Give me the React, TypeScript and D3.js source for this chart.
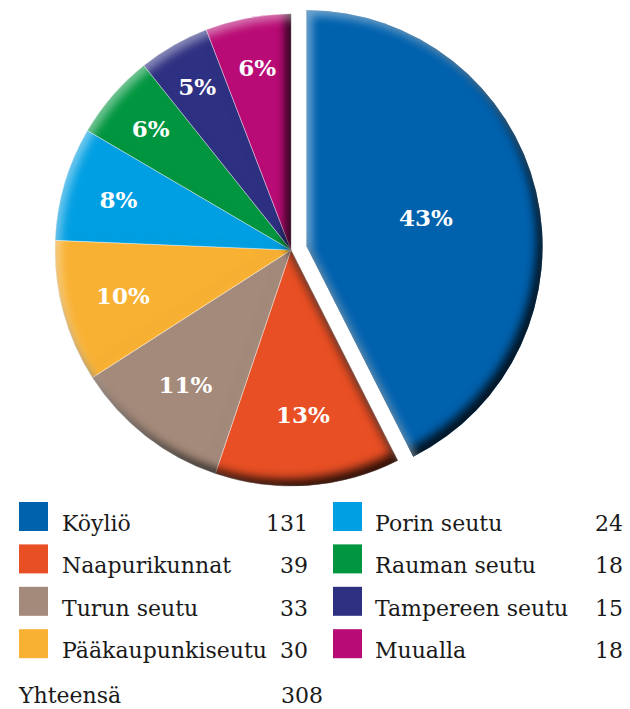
import React from 'react';
import * as d3 from 'd3';

const categories = ['Köyliö', 'Naapurikunnat', 'Turun seutu', 'Pääkaupunkiseutu', 'Porin seutu', 'Rauman seutu', 'Tampereen seutu', 'Muualla'];
const values = [131, 39, 33, 30, 24, 18, 15, 18];
const colors = ['#0061ad', '#e84f24', '#a48a7a', '#f8b133', '#009fe3', '#00963f', '#2e3082', '#b90b75'];
const totalLabel = 'Yhteensä';
const totalValue = 308;

type Datum = { name: string; value: number; color: string };

export default function App() {
  const W = 630, H = 709;
  const cx = 291, cy = 250, r = 236;
  const data: Datum[] = categories.map((c, i) => ({ name: c, value: values[i], color: colors[i] }));
  const pie = d3.pie<Datum>().value(d => d.value).sort(null);
  const arcs = pie(data);
  const arc = d3.arc<d3.PieArcDatum<Datum>>().innerRadius(0).outerRadius(r);
  const sum = d3.sum(values);
  const labelArc = (f: number) => {
    const lr = r * Math.min(0.8, 0.86 - 1.25 * f);
    return d3.arc<d3.PieArcDatum<Datum>>().innerRadius(lr).outerRadius(lr);
  };
  const labelArcExpl = d3.arc<d3.PieArcDatum<Datum>>().innerRadius(r * 0.52).outerRadius(r * 0.52);
  const pct = (v: number) => Math.round((v / sum) * 100) + '%';
  const explode = 16;

  const expl = arcs[0];
  const rest = arcs.slice(1);
  const mid = (expl.startAngle + expl.endAngle) / 2;
  const tx = Math.sin(mid) * explode;
  const ty = -Math.cos(mid) * explode;

  const legendRows = d3.range(4);
  const rowY = (i: number) => 502 + i * 42.4;
  const serif = '"DejaVu Serif", serif';

  return (
    <svg width={W} height={H} viewBox={`0 0 ${W} ${H}`} style={{ position: 'absolute', left: 0, top: 0, background: '#fff' }}>
      <defs>
        <filter id="bevel" filterUnits="userSpaceOnUse" x={-400} y={-400} width={800} height={800} colorInterpolationFilters="sRGB">
          <feGaussianBlur in="SourceAlpha" stdDeviation="5" result="blur" />
          <feOffset in="blur" dx="-6" dy="-7" result="offDark" />
          <feComposite in="SourceAlpha" in2="offDark" operator="out" result="darkMask" />
          <feFlood floodColor="#000" floodOpacity="0.8" result="black" />
          <feComposite in="black" in2="darkMask" operator="in" result="dark" />
          <feOffset in="blur" dx="5" dy="5" result="offLight" />
          <feComposite in="SourceAlpha" in2="offLight" operator="out" result="lightMask" />
          <feFlood floodColor="#fff" floodOpacity="0.45" result="white" />
          <feComposite in="white" in2="lightMask" operator="in" result="light" />
          <feMerge>
            <feMergeNode in="SourceGraphic" />
            <feMergeNode in="dark" />
            <feMergeNode in="light" />
          </feMerge>
        </filter>
      </defs>

      <g transform={`translate(${cx},${cy})`}>
        <g filter="url(#bevel)">
          {rest.map((a, i) => (
            <path key={i} d={arc(a) || ''} fill={a.data.color} stroke="#ffffff" strokeOpacity={0.55} strokeWidth={0.7} />
          ))}
        </g>
        <g transform={`translate(${tx},${ty})`}>
          <g filter="url(#bevel)">
            <path d={arc(expl) || ''} fill={expl.data.color} />
          </g>
        </g>
        {rest.map((a, i) => {
          const [x, y] = labelArc(a.data.value / sum).centroid(a);
          return (
            <text key={i} x={x} y={y} dy="0.36em" textAnchor="middle" fill="#fff" fontFamily={serif} fontWeight="bold" fontSize={23}>
              {pct(a.data.value)}
            </text>
          );
        })}
        {(() => {
          const [x, y] = labelArcExpl.centroid(expl);
          return (
            <text x={x + tx} y={y + ty} dy="0.36em" textAnchor="middle" fill="#fff" fontFamily={serif} fontWeight="bold" fontSize={23}>
              {pct(expl.data.value)}
            </text>
          );
        })()}
      </g>

      <g fontFamily={serif} fontSize={22} fill="#1a1a1a">
        {legendRows.map(i => {
          const d = data[i];
          return (
            <g key={'l' + i}>
              <rect x={19} y={rowY(i)} width={29} height={29} fill={d.color} />
              <text x={62} y={rowY(i) + 29}>{d.name}</text>
              <text x={308} y={rowY(i) + 29} textAnchor="end">{d.value}</text>
            </g>
          );
        })}
        {legendRows.map(i => {
          const d = data[i + 4];
          return (
            <g key={'r' + i}>
              <rect x={333} y={rowY(i)} width={29} height={29} fill={d.color} />
              <text x={375} y={rowY(i) + 29}>{d.name}</text>
              <text x={623} y={rowY(i) + 29} textAnchor="end">{d.value}</text>
            </g>
          );
        })}
        <text x={19} y={703}>{totalLabel}</text>
        <text x={323} y={703} textAnchor="end">{totalValue}</text>
      </g>
    </svg>
  );
}
